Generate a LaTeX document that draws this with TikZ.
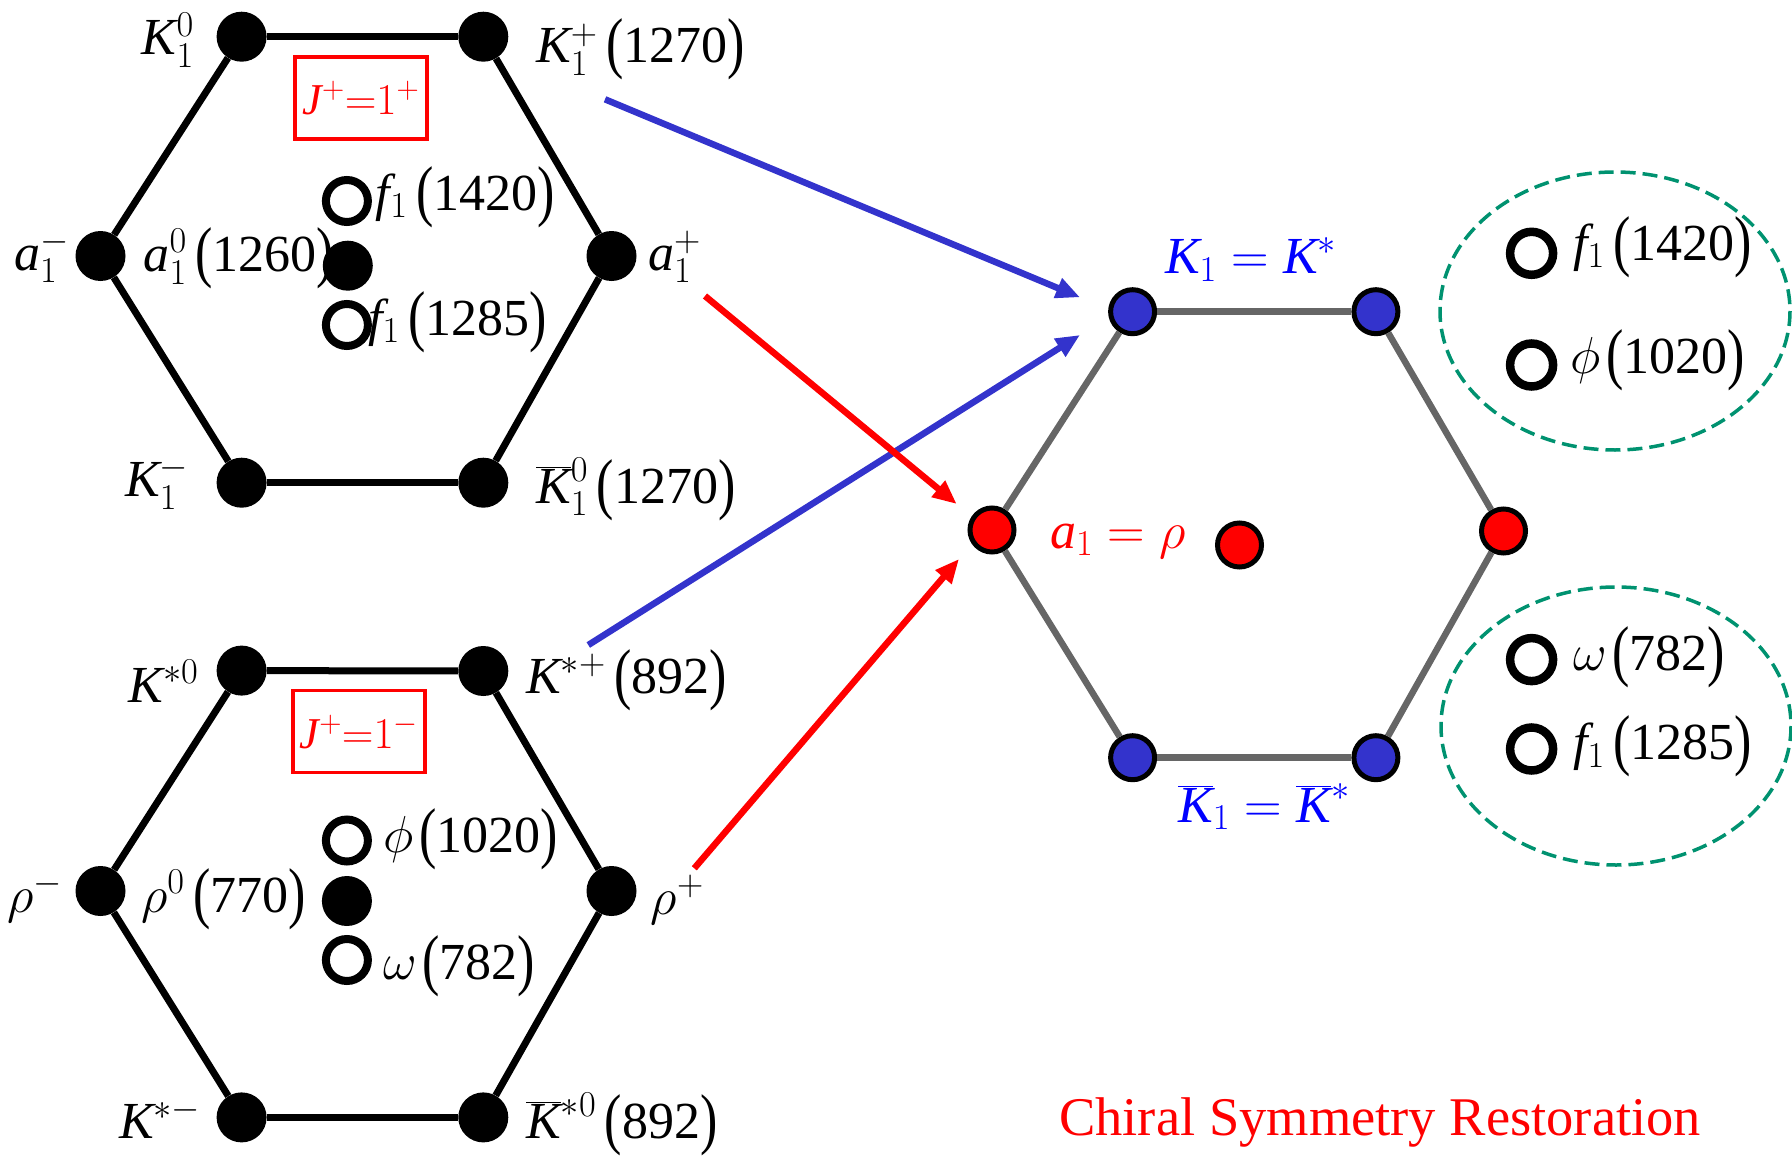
\RequirePackage{fix-cm}
\documentclass[tikz,border=0pt]{standalone}
\usepackage{fontspec}
\setmainfont{Liberation Serif}[NFSSFamily=tlib]
\DeclareSymbolFont{tit}{TU}{tlib}{m}{it}
\DeclareSymbolFont{trm}{TU}{tlib}{m}{n}
\DeclareMathSymbol{K}{\mathalpha}{tit}{`K}
\DeclareMathSymbol{a}{\mathalpha}{tit}{`a}
\DeclareMathSymbol{f}{\mathalpha}{tit}{`f}
\DeclareMathSymbol{J}{\mathalpha}{tit}{`J}
\DeclareMathSymbol{0}{\mathalpha}{trm}{`0}
\DeclareMathSymbol{1}{\mathalpha}{trm}{`1}
\usetikzlibrary{arrows.meta}
\definecolor{nblue}{RGB}{51,51,204}
\definecolor{hgray}{RGB}{102,102,102}
\definecolor{dgreen}{RGB}{0,146,112}
\newcommand\lb{\fontsize{52}{60}\selectfont}
\newcommand\tpar[1]{\raisebox{-3pt}{\scalebox{1}[1.3]{#1}}}
\newcommand\pp[1]{\mbox{\tpar{(}#1\tpar{)}}}
\newcommand\Kb{\overline{K}}
\tikzset{
  bdot/.style={circle,fill=black,inner sep=0pt,minimum size=50pt},
  odot/.style={circle,draw=black,line width=8pt,inner sep=0pt,minimum size=42pt},
  rodot/.style={circle,draw=black,line width=8.5pt,inner sep=0pt,minimum size=43pt},
  bluedot/.style={circle,draw=black,fill=nblue,line width=5pt,inner sep=0pt,minimum size=44pt},
  reddot/.style={circle,draw=black,fill=red,line width=5pt,inner sep=0pt,minimum size=44pt},
  hexedge/.style={line width=7pt,black},
  grayedge/.style={line width=6.5pt,hgray},
  lab/.style={inner sep=0pt,font=\lb},
  jbox/.style={draw=red,line width=3.5pt,text=red,inner sep=0pt,minimum width=132pt,minimum height=82pt,font=\fontsize{44}{50}\selectfont},
  barrow/.style={line width=6.5pt,nblue,-{Triangle[length=24pt,width=20pt]}},
  rarrow/.style={line width=6.5pt,red,-{Triangle[length=24pt,width=20pt]}},
  grpell/.style={dgreen,line width=3.5pt,dash pattern=on 15pt off 7pt}
}
\begin{document}
\begin{tikzpicture}[x=1pt,y=-1pt]
\useasboundingbox (0,0) rectangle (1792,1156);
% ---------- top hexagon (J=1+) ----------
\node[bdot] (tK0) at (241.6,36.7) {};
\node[bdot] (tKp) at (483.3,36.7) {};
\node[bdot] (tam) at (100.5,256) {};
\node[bdot] (tap) at (611.5,256) {};
\node[bdot] (tKm) at (241.6,482.7) {};
\node[bdot] (tKb) at (483.3,482.7) {};
\draw[hexedge] (tK0) -- (tKp);
\draw[hexedge] (tKp) -- (tap);
\draw[hexedge] (tap) -- (tKb);
\draw[hexedge] (tKb) -- (tKm);
\draw[hexedge] (tKm) -- (tam);
\draw[hexedge] (tam) -- (tK0);
\node[bdot] (tc) at (347.8,265.7) {};
\node[odot] (to1) at (346.9,201) {};
\node[odot] (to2) at (346.9,325) {};
\node[jbox] (tj) at (361,98) {$J^{+}{=}1^{+}$};
\node[lab,anchor=base east] (ltK0) at (194,55) {$K_1^0$};
\node[lab,anchor=base west] (ltKp) at (536,63) {$K_1^+\,\pp{1270}$};
\node[lab,anchor=base west] (ltam) at (14,270) {$a_1^-$};
\node[lab,anchor=base west] (ltc) at (143.5,271.7) {$a_1^0\,\pp{1260}$};
\node[lab,anchor=base west] (ltap) at (648,270) {$a_1^+$};
\node[lab,anchor=base west] (lto1) at (375.6,210) {$f_1\,\pp{1420}$};
\node[lab,anchor=base west] (lto2) at (368,335) {$f_1\,\pp{1285}$};
\node[lab,anchor=base east] (ltKm) at (189,496.7) {$K_1^-$};
\node[lab,anchor=base west] (ltKb) at (536,503) {$\Kb_1^0\,\pp{1270}$};
% ---------- bottom hexagon (J=1-) ----------
\node[bdot] (bK0) at (241.6,670.6) {};
\node[bdot] (bKp) at (483.3,671) {};
\node[bdot] (brm) at (100.5,891) {};
\node[bdot] (brp) at (611.5,891) {};
\node[bdot] (bKm) at (241.6,1117.4) {};
\node[bdot] (bKb) at (483.3,1117.4) {};
\draw[hexedge] (bK0) -- (bKp);
\draw[hexedge] (bKp) -- (brp);
\draw[hexedge] (brp) -- (bKb);
\draw[hexedge] (bKb) -- (bKm);
\draw[hexedge] (bKm) -- (brm);
\draw[hexedge] (brm) -- (bK0);
\node[bdot] (bc) at (346.9,901) {};
\node[odot] (bo1) at (346.9,840.5) {};
\node[odot] (bo2) at (346.9,960) {};
\node[jbox] (bj) at (359,731.5) {$J^{+}{=}1^{-}$};
\node[lab,anchor=base east] (lbK0) at (198.6,702) {$K^{*0}$};
\node[lab,anchor=base west] (lbKp) at (526,693.5) {$K^{*+}\,\pp{892}$};
\node[lab,anchor=base west] (lbrm) at (7,912) {$\rho^-$};
\node[lab,anchor=base west] (lbc) at (141,912) {$\rho^0\,\pp{770}$};
\node[lab,anchor=base west] (lbrp) at (650.7,914) {$\rho^+$};
\node[lab,anchor=base west] (lbo1) at (383,852.5) {$\phi\mkern2mu\pp{1020}$};
\node[lab,anchor=base west] (lbo2) at (383,979) {$\omega\mkern2mu\pp{782}$};
\node[lab,anchor=base east] (lbKm) at (201,1138) {$K^{*-}$};
\node[lab,anchor=base west] (lbKb) at (526,1138) {$\Kb^{*0}\,\pp{892}$};
% ---------- right hexagon (restored) ----------
\node[bluedot] (rTL) at (1132.6,311.7) {};
\node[bluedot] (rTR) at (1375.9,311.7) {};
\node[reddot] (rL) at (992,530) {};
\node[reddot] (rR) at (1503.5,531) {};
\node[bluedot] (rBL) at (1132.6,757.7) {};
\node[bluedot] (rBR) at (1375.9,757.7) {};
\node[reddot] (rC) at (1239.5,545) {};
\draw[grayedge] (rTL) -- (rTR);
\draw[grayedge] (rTR) -- (rR);
\draw[grayedge] (rR) -- (rBR);
\draw[grayedge] (rBR) -- (rBL);
\draw[grayedge] (rBL) -- (rL);
\draw[grayedge] (rL) -- (rTL);
\node[lab,anchor=base west,text=blue] (lrTop) at (1164.8,273.3) {$K_1 = K^*$};
\node[lab,anchor=base west,text=blue] (lrBot) at (1178,822) {$\Kb_1 = \Kb^*$};
\node[lab,anchor=base west,text=red] (lrMid) at (1050,548) {$a_1 = \rho$};
% ---------- groups on the right ----------
\draw[grpell] (1615,311) ellipse [x radius=175, y radius=139];
\draw[grpell] (1616,726) ellipse [x radius=175, y radius=139];
\node[rodot] (ro1) at (1531.6,253.3) {};
\node[rodot] (ro2) at (1531.6,365) {};
\node[rodot] (ro3) at (1531.6,659.6) {};
\node[rodot] (ro4) at (1531.6,749) {};
\node[lab,anchor=base west] (lro1) at (1573,260) {$f_1\,\pp{1420}$};
\node[lab,anchor=base west] (lro2) at (1570,373) {$\phi\mkern2mu\pp{1020}$};
\node[lab,anchor=base west] (lro3) at (1573,670) {$\omega\mkern2mu\pp{782}$};
\node[lab,anchor=base west] (lro4) at (1573,759.6) {$f_1\,\pp{1285}$};
% ---------- arrows ----------
\coordinate (aT1) at (605,99.3);   \coordinate (aH1) at (1080,297.3);
\coordinate (aT2) at (588.3,645);  \coordinate (aH2) at (1080,335);
\coordinate (aT3) at (705,296);    \coordinate (aH3) at (956.7,504);
\coordinate (aT4) at (694.3,868.3);\coordinate (aH4) at (959,559);
\draw[barrow] (aT1) -- (aH1);
\draw[barrow] (aT2) -- (aH2);
\draw[rarrow] (aT3) -- (aH3);
\draw[rarrow] (aT4) -- (aH4);
% ---------- title ----------
\node[inner sep=0pt,anchor=base west,text=red,font=\fontsize{54.5}{62}\selectfont] (title) at (1059,1135) {Chiral Symmetry Restoration};
\end{tikzpicture}
\end{document}
